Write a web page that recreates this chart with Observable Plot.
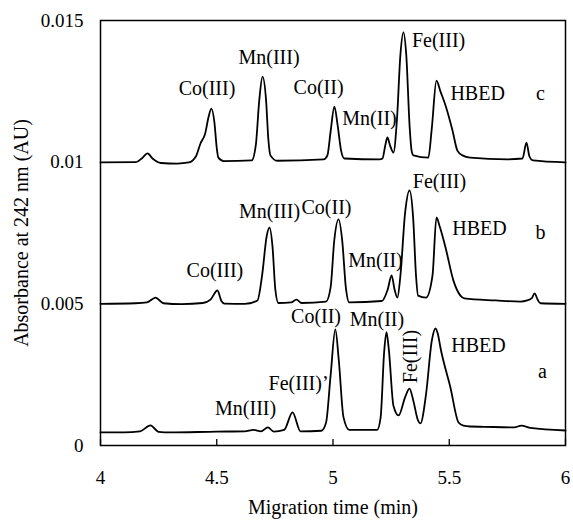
<!DOCTYPE html>
<html>
<head>
<meta charset="utf-8">
<script src="https://cdn.jsdelivr.net/npm/d3@7"></script>
<script src="https://cdn.jsdelivr.net/npm/@observablehq/plot@0.6"></script>
<style>
  html, body { margin: 0; padding: 0; background: #fff; }
</style>
</head>
<body>
<div id="chart"></div>
<script>
// ---- Data (migration time in min, absorbance in AU) ----
const traceA = [
  [4.00, 0.00046], [4.10, 0.00046], [4.17, 0.00050], [4.215, 0.00071], [4.25, 0.00048],
  [4.30, 0.00046], [4.50, 0.00049], [4.62, 0.00050], [4.658, 0.00055], [4.69, 0.00050],
  [4.72, 0.00064], [4.745, 0.00049], [4.79, 0.00055], [4.826, 0.00117], [4.86, 0.00050],
  [4.95, 0.00052], [4.97, 0.0008], [4.99, 0.0025], [5.01, 0.0041], [5.025, 0.0030],
  [5.045, 0.0010], [5.07, 0.00055], [5.19, 0.00055], [5.205, 0.0010], [5.22, 0.0033],
  [5.23, 0.0040], [5.24, 0.0034], [5.26, 0.0014], [5.282, 0.00106], [5.31, 0.0017],
  [5.329, 0.00201], [5.345, 0.0016], [5.365, 0.0009], [5.376, 0.00078], [5.40, 0.0018],
  [5.425, 0.0037], [5.441, 0.00413], [5.452, 0.0039], [5.462, 0.00346], [5.505, 0.00205],
  [5.540, 0.00081], [5.561, 0.00070], [5.59, 0.00067], [5.65, 0.00066], [5.78, 0.00064],
  [5.81, 0.00070], [5.85, 0.00062], [6.00, 0.00053]
];
const traceB = [
  [4.00, 0.00500], [4.15, 0.00502], [4.20, 0.00505], [4.237, 0.00522], [4.27, 0.00502],
  [4.35, 0.00499], [4.44, 0.00503], [4.473, 0.00515], [4.503, 0.00547], [4.52, 0.00510],
  [4.533, 0.00501], [4.62, 0.00500], [4.675, 0.00512], [4.695, 0.0060], [4.715, 0.0074],
  [4.727, 0.00769], [4.740, 0.0070], [4.752, 0.0055], [4.765, 0.00503], [4.82, 0.00505],
  [4.843, 0.00515], [4.865, 0.00503], [4.97, 0.00508], [4.99, 0.0056], [5.005, 0.0072],
  [5.024, 0.00798], [5.04, 0.0072], [5.055, 0.0056], [5.07, 0.00505], [5.21, 0.00510],
  [5.235, 0.0055], [5.252, 0.0060], [5.265, 0.0055], [5.277, 0.00522], [5.29, 0.0060],
  [5.31, 0.0082], [5.329, 0.0090], [5.345, 0.0080], [5.357, 0.0060], [5.366, 0.00529],
  [5.40, 0.00522], [5.428, 0.0060], [5.445, 0.00805], [5.46, 0.0077], [5.484, 0.00699],
  [5.518, 0.00582], [5.548, 0.00529], [5.565, 0.00519], [5.70, 0.00512], [5.806, 0.00508],
  [5.835, 0.00512], [5.855, 0.0052], [5.867, 0.00537], [5.88, 0.00515], [5.892, 0.00502],
  [6.00, 0.00500]
];
const traceC = [
  [4.00, 0.00999], [4.15, 0.01000], [4.18, 0.01015], [4.202, 0.01031], [4.225, 0.01012],
  [4.26, 0.00997], [4.33, 0.00995], [4.38, 0.00999], [4.41, 0.01020], [4.43, 0.01066],
  [4.45, 0.01100], [4.465, 0.01160], [4.477, 0.01189], [4.49, 0.01140], [4.50, 0.01050],
  [4.507, 0.01016], [4.53, 0.01004], [4.65, 0.01006], [4.668, 0.01060], [4.683, 0.01220],
  [4.697, 0.01302], [4.712, 0.01220], [4.722, 0.01080], [4.731, 0.01024], [4.76, 0.01005],
  [4.96, 0.01010], [4.976, 0.01024], [4.99, 0.01110], [5.006, 0.01196], [5.02, 0.01130],
  [5.035, 0.01040], [5.049, 0.01013], [5.20, 0.01010], [5.213, 0.01013], [5.225, 0.01060],
  [5.234, 0.01087], [5.245, 0.01060], [5.26, 0.01034], [5.275, 0.01150], [5.29, 0.01380],
  [5.303, 0.01458], [5.315, 0.01380], [5.33, 0.01120], [5.338, 0.01041], [5.346, 0.01024],
  [5.41, 0.01016], [5.425, 0.01120], [5.445, 0.01288], [5.462, 0.01250], [5.484, 0.01200],
  [5.514, 0.01112], [5.535, 0.01041], [5.557, 0.01024], [5.59, 0.01016], [5.75, 0.01010],
  [5.815, 0.01013], [5.832, 0.01069], [5.845, 0.01020], [5.86, 0.01006], [6.00, 0.00999]
];

// Peak labels
const labelText = ["Co(III)", "Mn(III)", "Co(II)", "Mn(II)", "Fe(III)", "HBED", "c",
                   "Mn(III)", "Co(II)", "Co(III)", "Mn(II)", "Fe(III)", "HBED", "b",
                   "Co(II)", "Mn(II)", "Fe(III)’", "Mn(III)", "HBED", "a"];
const labelX = [4.458, 4.725, 4.938, 5.157, 5.454, 5.622, 5.892,
                4.727, 4.972, 4.492, 5.183, 5.458, 5.630, 5.892,
                4.927, 5.189, 4.852, 4.624, 5.626, 5.901];
const labelY = [0.0126, 0.01369, 0.01264, 0.01154, 0.0143, 0.01242, 0.01242,
                0.00826, 0.0084, 0.00618, 0.00653, 0.00932, 0.00766, 0.00753,
                0.00455, 0.00445, 0.00219, 0.00131, 0.00353, 0.00261];
const rotatedLabel = ["Fe(III)"];
const rotatedX = [5.333];
const rotatedY = [0.00314];

// Axes
const xTicks = [4, 4.5, 5, 5.5, 6];
const xTickLabels = ["4", "4.5", "5", "5.5", "6"];
const yTicks = [0, 0.005, 0.01, 0.015];
const yTickLabels = ["0", "0.005", "0.01", "0.015"];
const xTitle = "Migration time (min)";
const yTitle = "Absorbance at 242 nm (AU)";

const font = "'Liberation Serif', 'Times New Roman', serif";
const idx = labelText.map((_, i) => i);

const chart = Plot.plot({
  width: 573,
  height: 521,
  marginLeft: 100,
  marginRight: 8,
  marginTop: 20,
  marginBottom: 76,
  style: {fontFamily: font, fontSize: "19px", background: "white", color: "black"},
  x: {domain: [4, 6]},
  y: {domain: [0, 0.015]},
  marks: [
    Plot.frame({stroke: "black", strokeWidth: 1.5}),
    Plot.axisX({ticks: xTicks, tickSize: 6, dy: -6, text: null, stroke: "black", strokeWidth: 1.3}),
    Plot.axisX({ticks: xTicks, tickSize: 0, tickPadding: 25, label: null,
                tickFormat: d => xTickLabels[xTicks.indexOf(d)], fontSize: 19, fontFamily: font, fill: "black"}),
    Plot.axisY({ticks: yTicks, tickSize: 0, tickPadding: 17, label: null,
                tickFormat: d => yTickLabels[yTicks.indexOf(d)], fontSize: 19, fontFamily: font, fill: "black"}),
    Plot.line(traceA, {x: d => d[0], y: d => d[1], curve: "monotone-x", stroke: "black", strokeWidth: 1.8}),
    Plot.line(traceB, {x: d => d[0], y: d => d[1], curve: "monotone-x", stroke: "black", strokeWidth: 1.8}),
    Plot.line(traceC, {x: d => d[0], y: d => d[1], curve: "monotone-x", stroke: "black", strokeWidth: 1.8}),
    Plot.text(idx, {x: i => labelX[i], y: i => labelY[i], text: i => labelText[i],
                    fontSize: 20, fontFamily: font, fill: "black"}),
    Plot.text([0], {x: i => rotatedX[i], y: i => rotatedY[i], text: i => rotatedLabel[i],
                    rotate: -90, fontSize: 20, fontFamily: font, fill: "black"}),
    Plot.text([xTitle], {frameAnchor: "bottom", dy: 62, textAnchor: "middle", lineAnchor: "middle",
                         fontSize: 20, fontFamily: font, fill: "black"}),
    Plot.text([yTitle], {frameAnchor: "left", dx: -79, rotate: -90, textAnchor: "middle", lineAnchor: "middle",
                         fontSize: 20, fontFamily: font, fill: "black"})
  ]
});
document.getElementById("chart").appendChild(chart);
</script>
</body>
</html>
